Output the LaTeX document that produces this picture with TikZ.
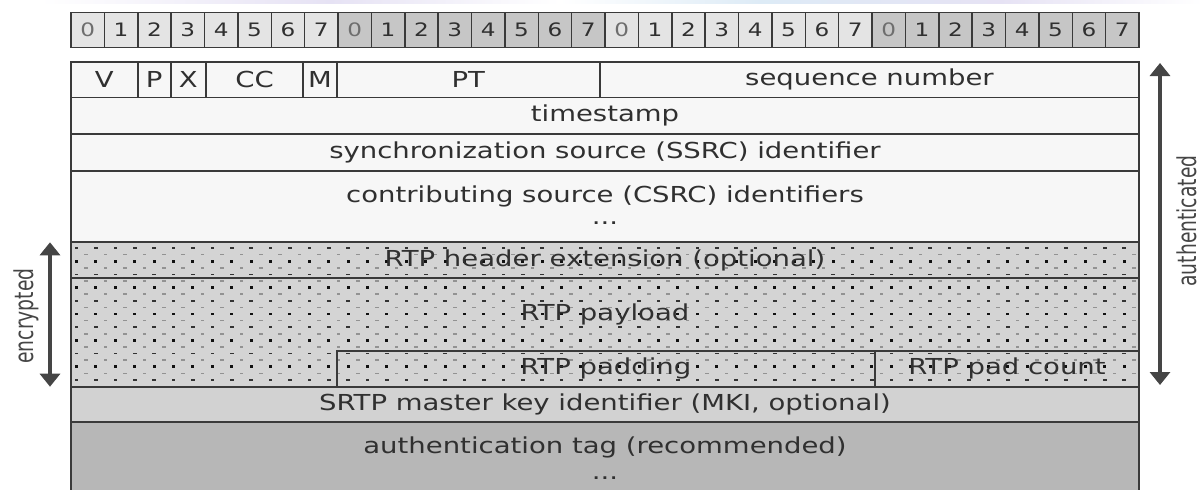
\documentclass[tikz,border=0pt]{standalone}
\usepackage{fontspec}
\setmainfont[FakeStretch=1.25]{DejaVu Sans}
\newfontfamily\sidefont[FakeStretch=0.72]{DejaVu Sans}
\usetikzlibrary{arrows.meta}

\definecolor{ink}{HTML}{303030}
\definecolor{zerogray}{HTML}{6E6E6E}
\definecolor{rulelight}{HTML}{E4E4E4}
\definecolor{ruledark}{HTML}{C6C6C6}
\definecolor{plain}{HTML}{F7F7F7}
\definecolor{secret}{HTML}{D4D4D4}
\definecolor{mkifill}{HTML}{D2D2D2}
\definecolor{tagfill}{HTML}{B7B7B7}
\definecolor{edge}{HTML}{3A3A3A}
\definecolor{arrowgray}{HTML}{454545}
\definecolor{dotdark}{HTML}{111111}
\definecolor{dashdark}{HTML}{333333}
\definecolor{dashlight}{HTML}{929292}
\definecolor{haze}{HTML}{E6E2F4}
\definecolor{hazeblue}{HTML}{DDEBF6}

\tikzset{
  fieldbox/.style={rectangle, draw=edge, line width=1.8pt, inner sep=0pt, outer sep=0pt,
    text=ink, font=\fontsize{22}{26}\selectfont},
  fieldtext/.style={inner sep=0pt, text=ink, font=\fontsize{22}{26}\selectfont},
  bitbox/.style={rectangle, draw=edge, line width=1.5pt, inner sep=0pt, outer sep=0pt,
    minimum width=33.375pt, minimum height=35.4pt, font=\fontsize{18.5}{20}\selectfont},
  sidearrow/.style={draw=arrowgray, line width=4.5pt,
    {Triangle[width=20pt,length=13pt]}-{Triangle[width=20pt,length=13pt]}},
  sidelabel/.style={inner sep=0pt, text=arrowgray, rotate=90,
    font=\sidefont\fontsize{26}{28}\selectfont},
}

% a header field spanning x1..x2 and y1..y2 (y grows downwards)
\newcommand\hdrfield[7]{%
  \node[fieldbox,#6,minimum width={#4-#2},minimum height={#5-#3}]
    (#1) at ({(#2+#4)/2},{(#3+#5)/2}) {#7};}

\begin{document}
\begin{tikzpicture}[x=1pt,y=-1pt]
\useasboundingbox[fill=white] (0,0) rectangle (1203,490);

% faint band along the top edge
\shade[left color=white, right color=haze] (40,0) rectangle (330,3.5);
\shade[left color=haze, right color=white] (330,0) rectangle (560,3.5);
\shade[left color=white, right color=hazeblue] (560,0) rectangle (760,3.5);
\shade[left color=hazeblue, right color=haze] (760,0) rectangle (1000,3.5);
\shade[left color=haze, right color=white] (1000,0) rectangle (1203,3.5);

% bit ruler: four bytes, alternating shades
\foreach \i in {0,...,31}{
  \pgfmathtruncatemacro\bytenum{\i/8}
  \pgfmathtruncatemacro\bitnum{mod(\i,8)}
  \ifodd\bytenum\def\cellfill{ruledark}\else\def\cellfill{rulelight}\fi
  \ifnum\bitnum=0\def\celltext{zerogray}\else\def\celltext{ink}\fi
  \node[bitbox, fill=\cellfill, text=\celltext] (bit\i) at ({71+33.375*(\i+0.5)},30) {\bitnum};
}

% fixed RTP header
\hdrfield{ver}{71}{62.3}{137.7}{97.5}{fill=plain}{V}
\hdrfield{padflag}{137.7}{62.3}{170.7}{97.5}{fill=plain}{P}
\hdrfield{extflag}{170.7}{62.3}{206}{97.5}{fill=plain}{X}
\hdrfield{cc}{206}{62.3}{303.3}{97.5}{fill=plain}{CC}
\hdrfield{marker}{303.3}{62.3}{336.7}{97.5}{fill=plain}{M}
\hdrfield{pt}{336.7}{62.3}{600}{97.5}{fill=plain}{PT}
\hdrfield{seq}{600}{62.3}{1139}{97.5}{fill=plain}{sequence number}
\hdrfield{ts}{71}{97.5}{1139}{134.3}{fill=plain}{timestamp}
\hdrfield{ssrc}{71}{134.3}{1139}{170.7}{fill=plain}{synchronization source (SSRC) identifier}
\hdrfield{csrc}{71}{170.7}{1139}{242.3}{fill=plain}{}
\node[fieldtext] (csrctext) at (605,196) {contributing source (CSRC) identifiers};
\node[fieldtext, anchor=base] (csrcmore) at (605,224) {...};

% encrypted part: grey background with a stipple of dots and dashes
\fill[secret] (71,242.3) rectangle (1139,386.7);
\begin{scope}
  \clip (71,242.3) rectangle (1139,386.7);
  \foreach \k in {0,...,10}{
    \pgfmathsetmacro\yy{248+13.2*\k}
    \ifodd\k
      \foreach \j in {0,...,55}{
        \pgfmathsetmacro\xx{76.5+19.4*\j}
        \fill[dotdark] (\xx-1.45,\yy-1.4) rectangle (\xx+1.45,\yy+1.4);}
    \else
      \foreach \j in {0,...,55}{
        \pgfmathsetmacro\xx{76.5+19.4*\j}
        \fill[dashdark] (\xx-1.8,\yy-0.8) rectangle (\xx+1.8,\yy+0.8);}
    \fi
    \pgfmathsetmacro\yg{254.6+13.2*\k}
    \foreach \j in {0,...,55}{
      \pgfmathsetmacro\xx{86.2+19.4*\j}
      \fill[dashlight] (\xx-1.8,\yg-0.8) rectangle (\xx+1.8,\yg+0.8);}
  }
\end{scope}

\hdrfield{hdrext}{71}{242.3}{1139}{278.3}{}{RTP header extension (optional)}
\hdrfield{payload}{71}{278.3}{1139}{386.7}{}{}
\node[fieldtext] (payloadtext) at (605,314.5) {RTP payload};
\hdrfield{padding}{336.7}{350.7}{875}{386.7}{}{RTP padding}
\hdrfield{padcount}{875}{350.7}{1139}{386.7}{}{RTP pad count}

% SRTP trailer
\hdrfield{mki}{71}{386.7}{1139}{422}{fill=mkifill}{SRTP master key identifier (MKI, optional)}
\node[rectangle, fill=tagfill, inner sep=0pt, outer sep=0pt, minimum width=1068pt,
  minimum height=68pt] (authtag) at (605,456) {};
\draw[draw=edge, line width=1.8pt] (authtag.south west) -- (authtag.north west)
  -- (authtag.north east) -- (authtag.south east);
\node[fieldtext] (authtext) at (605,447) {authentication tag (recommended)};
\node[fieldtext, anchor=base] (authmore) at (605,479) {...};

% coverage arrows
\coordinate (encTop) at (50,242.3);
\coordinate (encBot) at (50,386.7);
\draw[sidearrow] (encTop) -- (encBot);
\node[sidelabel] (enclabel) at (26,316) {encrypted};

\coordinate (authTop) at (1160,63);
\coordinate (authBot) at (1160,385);
\draw[sidearrow] (authTop) -- (authBot);
\node[sidelabel] (authlabel) at (1187,221) {authenticated};
\end{tikzpicture}
\end{document}
